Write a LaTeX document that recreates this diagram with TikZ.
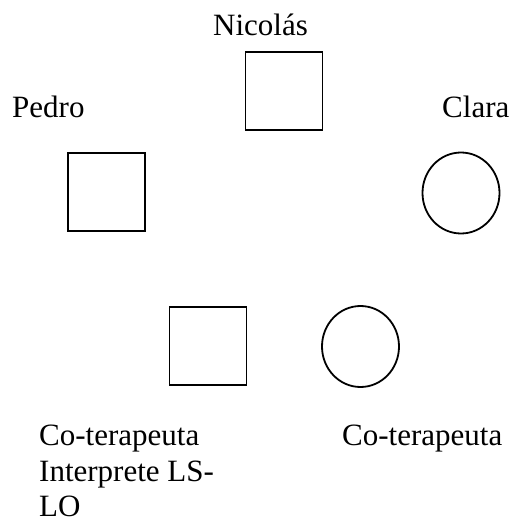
\documentclass[tikz,border=0pt]{standalone}
\usepackage{fontspec}
\setmainfont{Liberation Serif}
\usetikzlibrary{shapes.geometric}
\begin{document}
\begin{tikzpicture}[x=1pt,y=-1pt,
  male/.style={draw, line width=1.8pt, rectangle, minimum width=77pt, minimum height=78pt, inner sep=0pt},
  female/.style={draw, line width=1.8pt, ellipse, minimum width=77pt, minimum height=81pt, inner sep=0pt},
  lbl/.style={anchor=base west, inner sep=0pt, font=\fontsize{31}{35.5}\selectfont, align=left}]
  \useasboundingbox (0,0) rectangle (510,522);
  % family members
  \node[male]   (nicolas) at (284,91) {};
  \node[male]   (pedro)   at (106.5,192) {};
  \node[female] (clara)   at (461,193) {};
  % therapists
  \node[male]   (coterm)  at (208,346) {};
  \node[female] (cotert)  at (360.5,346.5) {};
  % names (a multi-line label sits on the baseline of its last line)
  \node[lbl] (lnicolas) at (213,35)  {Nicolás};
  \node[lbl] (lpedro)   at (12,117)  {Pedro};
  \node[lbl] (lclara)   at (442,117) {Clara};
  \node[lbl] (lcoterm)  at (39,516.5) {Co-terapeuta\\Interprete LS-\\LO};
  \node[lbl] (lcotert)  at (342,445.5) {Co-terapeuta};
\end{tikzpicture}
\end{document}
